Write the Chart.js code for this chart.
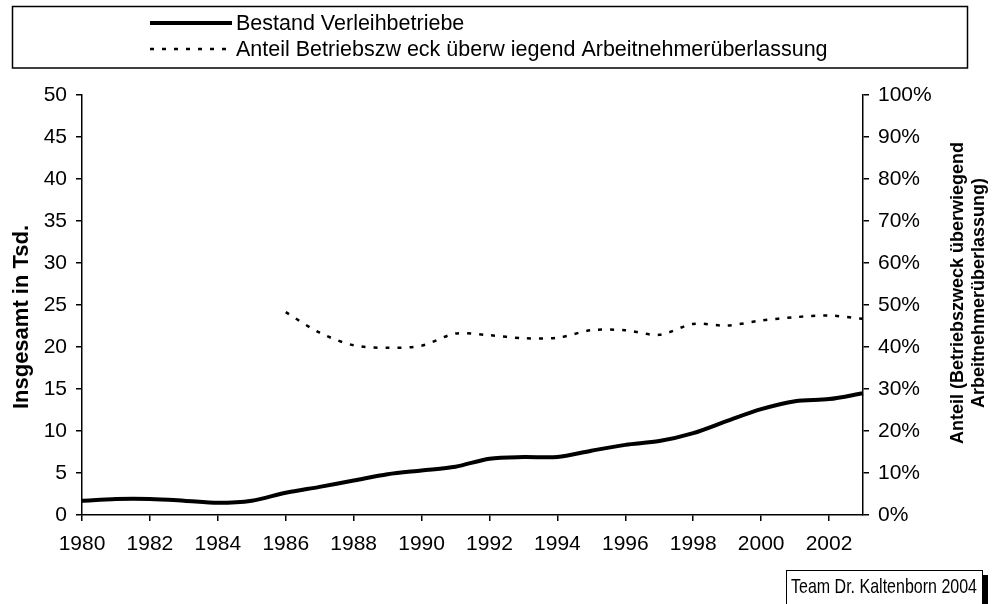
<!DOCTYPE html>
<html>
<head>
<meta charset="utf-8">
<script src="https://cdn.jsdelivr.net/npm/chart.js@4.4.0/dist/chart.umd.min.js"></script>
<style>
  html, body { margin: 0; padding: 0; background: #fff; }
  #wrap { width: 997px; height: 604px; }
</style>
</head>
<body>
<div id="wrap"><canvas id="myChart" width="997" height="604"></canvas></div>
<script>
const years = ["1980","1981","1982","1983","1984","1985","1986","1987","1988","1989","1990","1991",
  "1992","1993","1994","1995","1996","1997","1998","1999","2000","2001","2002","2003"];
// Bestand Verleihbetriebe, in Tsd.
const bestand = [1.7, 1.9, 1.9, 1.7, 1.45, 1.7, 2.65, 3.35, 4.1, 4.85, 5.3, 5.75,
  6.7, 6.9, 6.9, 7.65, 8.35, 8.8, 9.75, 11.2, 12.6, 13.55, 13.8, 14.5];
// Anteil Betriebszweck überwiegend ANÜ, in %
const anteil = [null, null, null, null, null, null, 48.3, 43.4, 40.4, 39.8, 40.3, 43.2,
  42.8, 42.1, 42.2, 44.0, 44.0, 42.9, 45.5, 45.1, 46.3, 47.1, 47.5, 46.7];
const labels = ["Bestand Verleihbetriebe", "Anteil Betriebszw eck überw iegend Arbeitnehmerüberlassung"];
const leftTitle = "Insgesamt in Tsd.";
const rightTitle = ["Anteil (Betriebszweck überwiegend", "Arbeitnehmerüberlassung)"];
const footer = "Team Dr. Kaltenborn 2004";

const FONT = "'Liberation Sans', Arial, sans-serif";
Chart.defaults.font.family = FONT;
Chart.defaults.color = "#000";

// legend box, axis titles and footer, drawn on the canvas
const extras = {
  id: "extras",
  afterDraw(chart) {
    const ctx = chart.ctx;
    ctx.save();
    ctx.strokeStyle = "#000";
    ctx.fillStyle = "#000";
    ctx.lineWidth = 1.5;
    ctx.strokeRect(12.5, 6.5, 955, 61.5);
    ctx.font = "21.5px " + FONT;
    ctx.textBaseline = "middle";
    chart.data.datasets.forEach((ds, i) => {
      const y = i === 0 ? 23 : 49;
      ctx.beginPath();
      ctx.setLineDash(ds.borderDash || []);
      ctx.lineWidth = ds.borderWidth;
      ctx.moveTo(150, y);
      ctx.lineTo(232, y);
      ctx.stroke();
      ctx.setLineDash([]);
      ctx.fillText(ds.label, 236, y + 1);
    });

    // left title
    ctx.textAlign = "center";
    ctx.font = "bold 22px " + FONT;
    ctx.save();
    ctx.translate(22, 317);
    ctx.rotate(-Math.PI / 2);
    ctx.fillText(leftTitle, 0, 0);
    ctx.restore();
    // right title
    ctx.font = "bold 18px " + FONT;
    rightTitle.forEach((t, i) => {
      ctx.save();
      ctx.translate(958 + i * 21, 293);
      ctx.rotate(-Math.PI / 2);
      ctx.fillText(t, 0, 0);
      ctx.restore();
    });

    // footer box
    ctx.fillRect(983, 575, 5, 40);
    ctx.fillStyle = "#fff";
    ctx.fillRect(786, 570, 197, 40);
    ctx.lineWidth = 1;
    ctx.strokeRect(786.5, 570.5, 196, 40);
    ctx.fillStyle = "#000";
    ctx.textAlign = "left";
    ctx.font = "21px " + FONT;
    ctx.fillText(footer, 791, 587, 186);
    ctx.restore();
  }
};

const tickFont = { size: 21, family: FONT };
const myChart = new Chart(document.getElementById("myChart"), {
  type: "line",
  data: {
    labels: years,
    datasets: [
      {
        label: labels[0],
        data: bestand,
        yAxisID: "y",
        borderColor: "#000",
        borderWidth: 4,
        pointRadius: 0,
        tension: 0.3,
      },
      {
        label: labels[1],
        data: anteil,
        yAxisID: "y1",
        borderColor: "#000",
        borderWidth: 2.5,
        borderDash: [4, 8],
        pointRadius: 0,
        tension: 0.3,
      },
    ],
  },
  options: {
    responsive: false,
    animation: false,
    devicePixelRatio: 1,
    layout: { padding: { top: 95, left: 0, right: 0, bottom: 0 } },
    plugins: { legend: { display: false }, tooltip: { enabled: false } },
    scales: {
      x: {
        type: "category",
        offset: false,
        grid: {
          drawOnChartArea: false,
          tickLength: 6,
          lineWidth: 1.5,
          color: (c) => (c.index % 2 === 0 ? "#000" : "rgba(0,0,0,0)"),
        },
        border: { color: "#000", width: 1.5 },
        ticks: {
          autoSkip: false,
          maxRotation: 0,
          font: tickFont,
          padding: 11,
          callback: (v, i) => (i % 2 === 0 ? years[i] : ""),
        },
        afterFit: (s) => { s.height = 89; },
      },
      y: {
        position: "left",
        min: 0,
        max: 50,
        grid: { drawOnChartArea: false, tickLength: 6, lineWidth: 1.5, color: "#000" },
        border: { color: "#000", width: 1.5 },
        ticks: { stepSize: 5, font: tickFont, padding: 9 },
        afterFit: (s) => { s.width = 82; },
      },
      y1: {
        position: "right",
        min: 0,
        max: 100,
        grid: { drawOnChartArea: false, tickLength: 6, lineWidth: 1.5, color: "#000" },
        border: { color: "#000", width: 1.5 },
        ticks: { stepSize: 10, font: tickFont, padding: 9, callback: (v) => v + "%" },
        afterFit: (s) => { s.width = 134; },
      },
    },
  },
  plugins: [extras],
});
</script>
</body>
</html>
